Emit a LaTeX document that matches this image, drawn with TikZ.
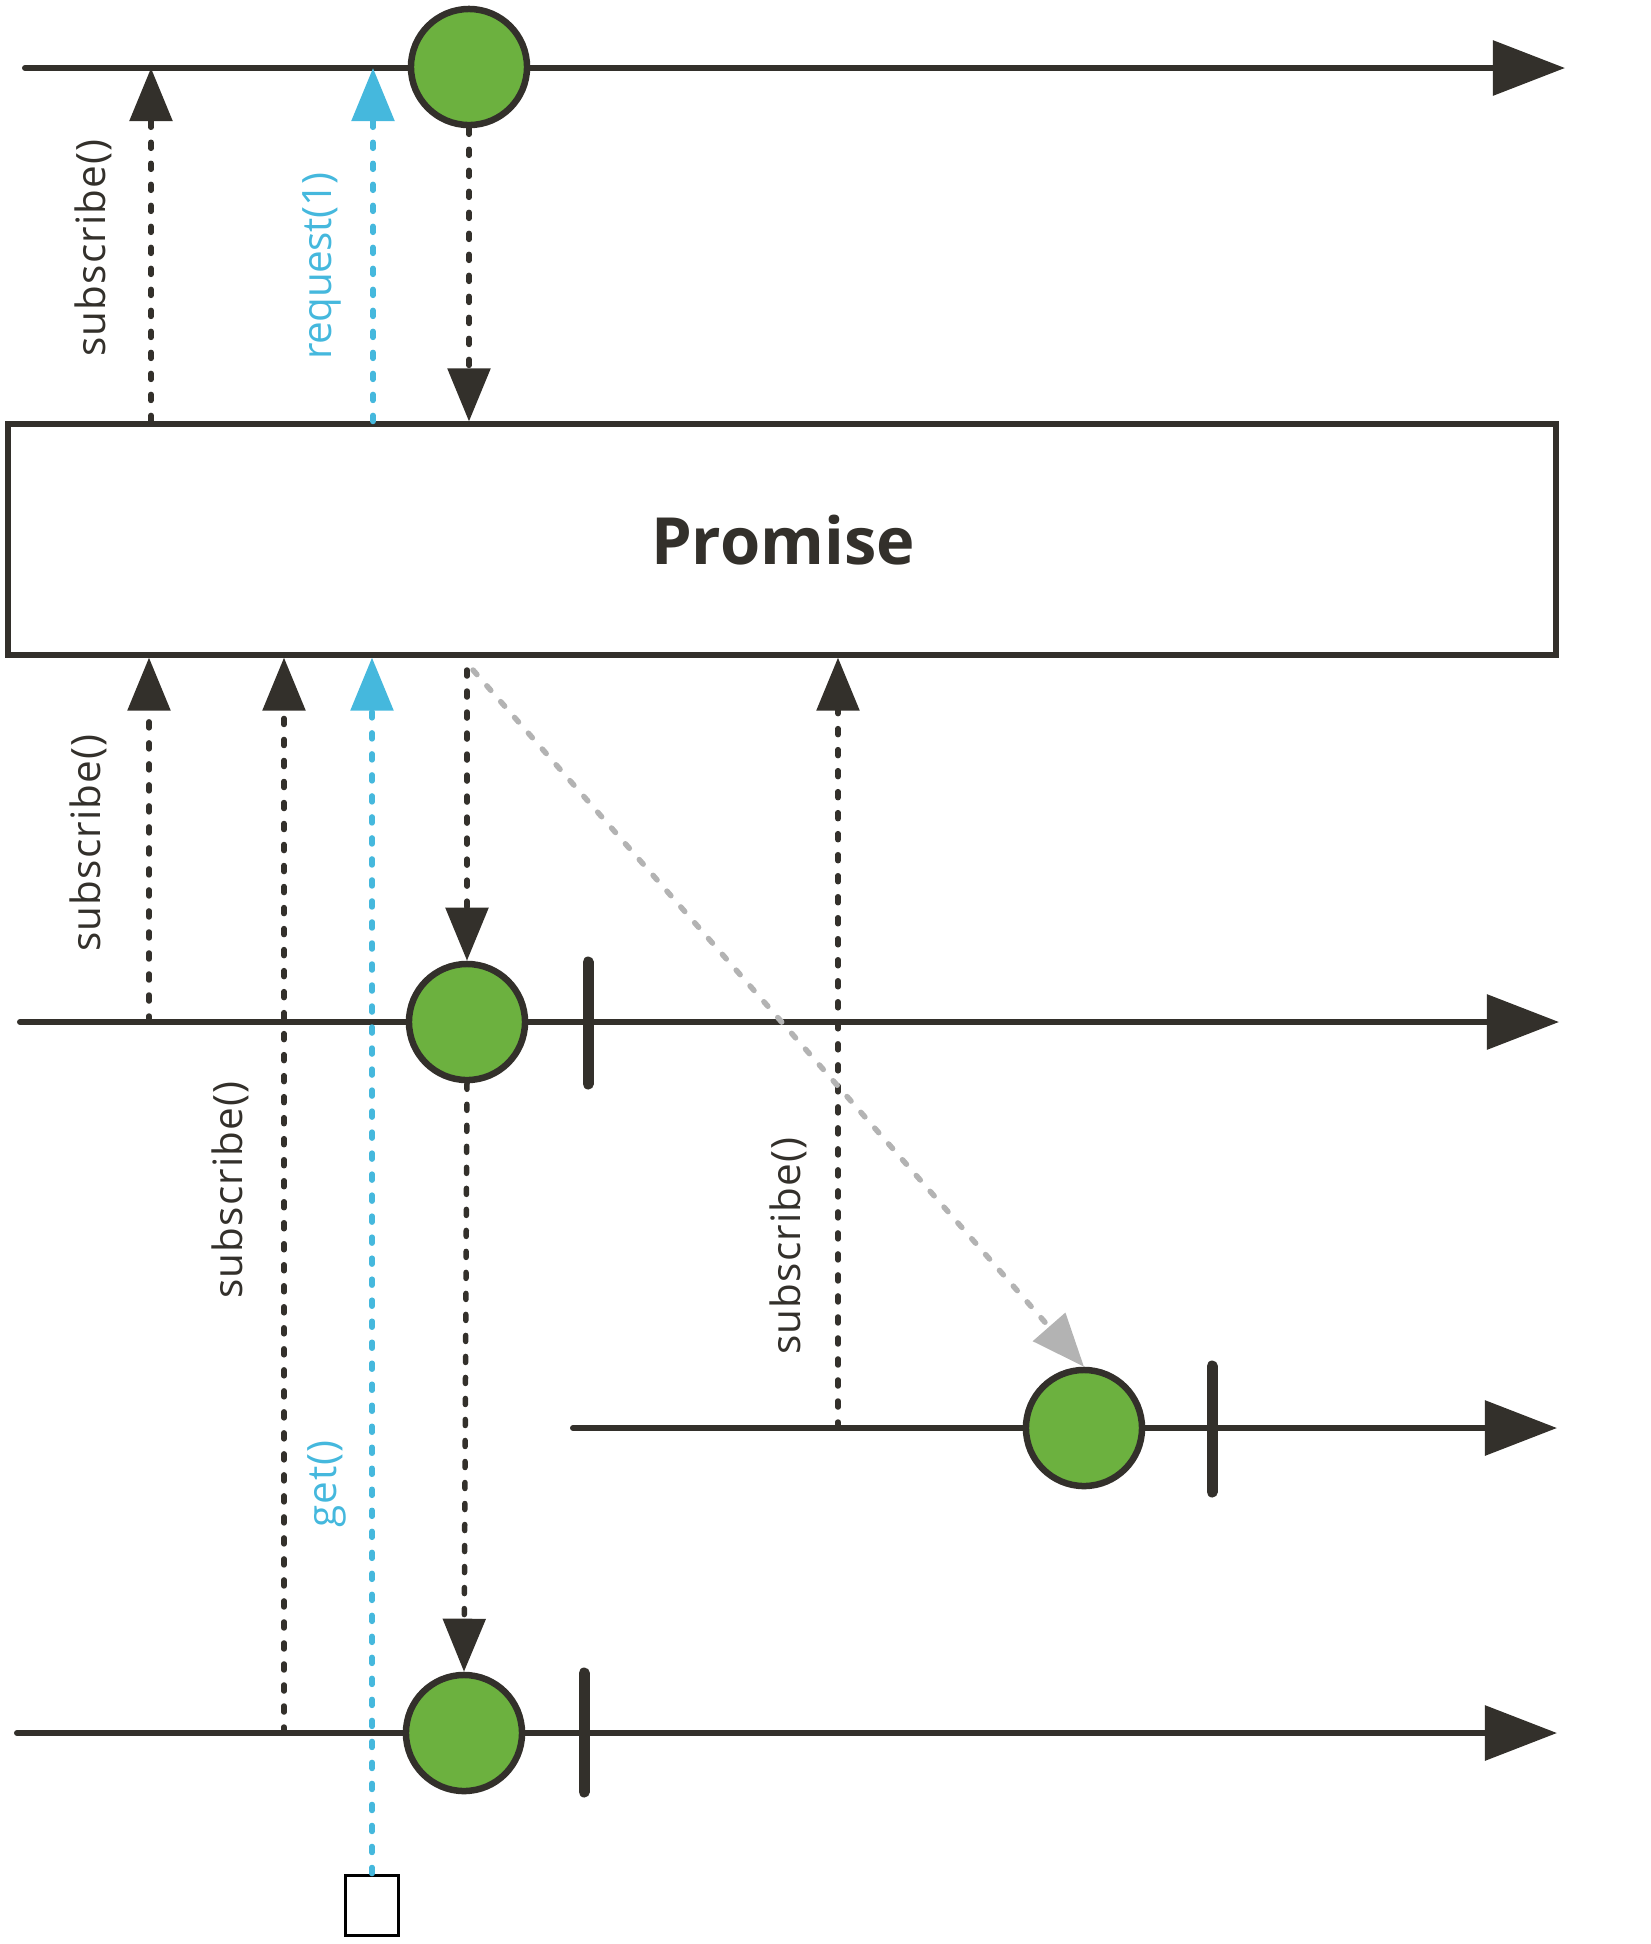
\documentclass[tikz,border=0pt]{standalone}
\usepackage{fontspec}
\setmainfont{Open Sans}
\newfontfamily\lblfont{Open Sans}[LetterSpace=3]
\newfontfamily\lblfonttight{Open Sans}[LetterSpace=-1]
\usetikzlibrary{arrows.meta}
\definecolor{dk}{RGB}{51,48,43}
\definecolor{gr}{RGB}{108,177,63}
\definecolor{bl}{RGB}{69,184,221}
\definecolor{gy}{RGB}{179,179,179}
\tikzset{
  tl/.style={draw=dk, line width=0.06cm, line cap=round, -{Triangle[length=0.72cm,width=0.54cm]}},
  ev/.style={circle, draw=dk, fill=gr, line width=0.065cm, minimum size=1.16cm, inner sep=0pt},
  tickmark/.style={draw=dk, line width=0.11cm, line cap=round},
  darr/.style={draw=dk, line width=0.055cm, dash pattern=on 0.06cm off 0.15cm, line cap=round, -{Triangle[length=0.53cm,width=0.42cm]}},
  barr/.style={darr, draw=bl},
  garr/.style={darr, draw=gy},
  lbl/.style={rotate=90, text=dk, font=\lblfont\fontsize{11.5}{14}\selectfont, inner sep=0pt},
  blbl/.style={lbl, text=bl},
}
\begin{document}
\begin{tikzpicture}[x=0.01cm, y=-0.01cm]
\useasboundingbox (0,0) rectangle (1651,1944);
% timelines
\coordinate (t1s) at (25,68);   \coordinate (t1e) at (1565,68);
\coordinate (t2s) at (20,1022); \coordinate (t2e) at (1559,1022);
\coordinate (t3s) at (573,1428);\coordinate (t3e) at (1557,1428);
\coordinate (t4s) at (17,1733); \coordinate (t4e) at (1557,1733);
\draw[tl] (t1s) -- (t1e);
\draw[tl] (t2s) -- (t2e);
\draw[tl] (t3s) -- (t3e);
\draw[tl] (t4s) -- (t4e);
% box
\node[draw=dk, line width=0.06cm, fill=white, minimum width=15.48cm, minimum height=2.30cm, inner sep=0pt] (box) at (782,539.5) {};
\node[text=dk, font=\fontsize{18.5}{20}\selectfont\bfseries] (ptext) at (783,540) {Promise};
% events
\node[ev] (c1) at (469,67) {};
\node[ev] (c2) at (467,1022) {};
\node[ev] (c3) at (1084,1428) {};
\node[ev] (c4) at (464,1733) {};
% completion ticks
\draw[tickmark] (588,962) -- (588,1084);
\draw[tickmark] (1212,1366) -- (1212,1492);
\draw[tickmark] (584,1673) -- (584,1792);
% square
\node[draw=black, line width=0.03cm, minimum width=0.52cm, minimum height=0.60cm, inner sep=0pt] (sq) at (372,1905) {};
% anchor points on timelines
\coordinate (s1) at (151,68);
\coordinate (r1) at (373,68);
\coordinate (s2) at (149,1022);
\coordinate (s3) at (284,1733);
\coordinate (s4) at (838,1428);
\coordinate (dg) at (473,670);
% connectors above box
\draw[darr] (s1 |- box.north) -- (s1);
\draw[barr] (r1 |- box.north) -- (r1);
\draw[darr] (c1.south) -- (c1.south |- box.north);
% connectors below box
\draw[darr] (s2) -- (s2 |- box.south);
\draw[darr] (s3) -- (s3 |- box.south);
\draw[barr] (sq.north) -- (sq.north |- box.south);
\draw[darr] (s4) -- (s4 |- box.south);
\draw[darr] (dg -| c2) -- (c2.north);
\draw[garr] (dg) -- (c3.north);
\draw[darr] (c2.south) -- (c4.north);
% labels
\node[lbl] (l1) at (93,248) {subscribe()};
\node[blbl, font=\lblfonttight\fontsize{11.5}{14}\selectfont] (l2) at (322,266) {request(1)};
\node[lbl] (l3) at (88,843) {subscribe()};
\node[lbl] (l4) at (230,1190) {subscribe()};
\node[blbl] (l5) at (327,1484) {get()};
\node[lbl] (l6) at (788,1246) {subscribe()};
\end{tikzpicture}
\end{document}
